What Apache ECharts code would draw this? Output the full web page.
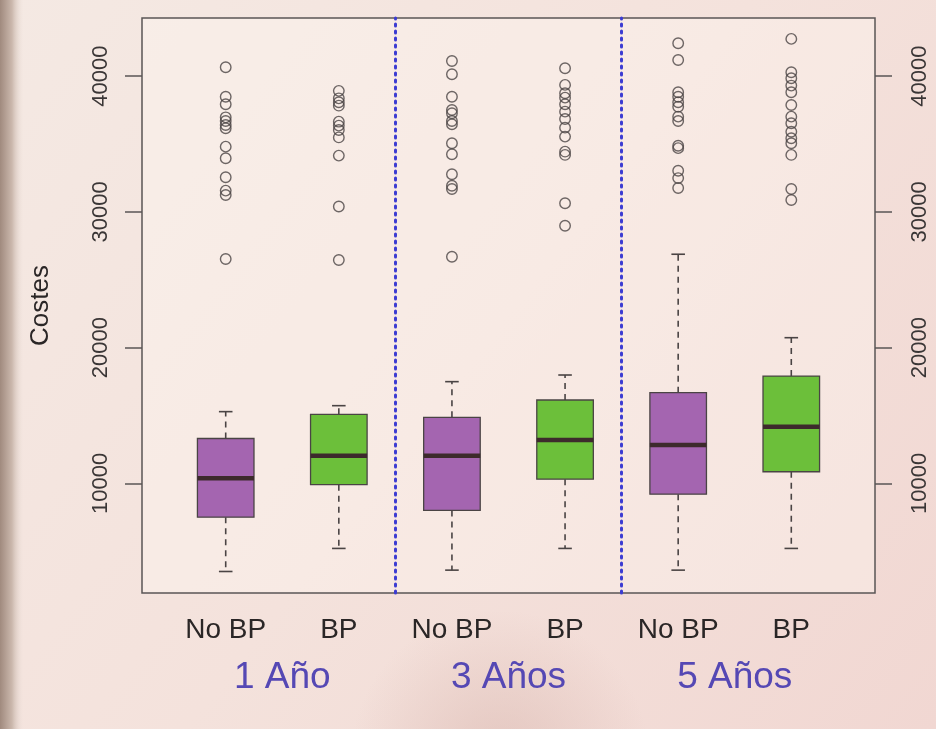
<!DOCTYPE html>
<html>
<head>
<meta charset="utf-8">
<script src="https://cdn.jsdelivr.net/npm/echarts@6/dist/echarts.min.js"></script>
<style>
html,body{margin:0;padding:0;background:#f3e3dc;}
#chart{width:936px;height:729px;}
</style>
</head>
<body>
<div id="chart"></div>
<script>
// ---- data ----
const categories = ['No BP', 'BP', 'No BP', 'BP', 'No BP', 'BP'];
const groups = ['1 Año', '3 Años', '5 Años'];
const groupPositions = [1.5, 3.5, 5.5];
const yTicks = [10000, 20000, 30000, 40000];

const lowWhisker  = [3500, 5200, 3600, 5200, 3600, 5200];
const q1          = [7500, 9900, 8000, 10300, 9200, 10850];
const medians     = [10370, 12030, 12030, 13190, 12820, 14170];
const q3          = [13300, 15080, 14860, 16140, 16680, 17900];
const highWhisker = [15280, 15720, 17490, 17980, 26880, 20730];

const outliersNoBP1 = [40660, 38490, 37930, 36970, 36700, 36410, 36160, 34810, 33950, 32550, 31570, 31250, 26530];
const outliersBP1   = [38920, 38370, 38080, 37830, 36650, 36360, 36040, 35490, 34150, 30400, 26460];
const outliersNoBP3 = [41120, 40140, 38490, 37510, 37270, 36700, 36460, 35060, 34250, 32770, 31930, 31690, 26700];
const outliersBP3   = [40590, 39360, 38740, 38420, 37930, 37390, 36850, 36210, 35550, 34440, 34200, 30640, 28980];
const outliersNoBP5 = [42430, 41200, 38820, 38490, 38080, 37750, 37020, 36700, 34880, 34700, 33030, 32490, 31760];
const outliersBP5   = [42750, 40290, 39850, 39310, 38820, 37880, 37020, 36530, 35910, 35430, 35060, 34200, 31690, 30880];
const outlierLists = [outliersNoBP1, outliersBP1, outliersNoBP3, outliersBP3, outliersNoBP5, outliersBP5];

const boxColors = ['#a465b0', '#6cbf3a', '#a465b0', '#6cbf3a', '#a465b0', '#6cbf3a'];
const dividers = [2.5, 4.5];

// ---- build series data ----
const boxData = categories.map((c, i) => [i + 1, lowWhisker[i], q1[i], medians[i], q3[i], highWhisker[i]]);
const outlierData = [];
outlierLists.forEach((list, i) => list.forEach(v => outlierData.push([i + 1, v])));

const chart = echarts.init(document.getElementById('chart'), null, {renderer: 'canvas'});

const FONT = "'Liberation Sans', Arial, sans-serif";
const Y_MIN = 1915, Y_MAX = 44290;

function renderBox(params, api) {
  const x = api.value(0);
  const lo = api.coord([x, api.value(1)]);
  const b1 = api.coord([x, api.value(2)]);
  const md = api.coord([x, api.value(3)]);
  const b3 = api.coord([x, api.value(4)]);
  const hi = api.coord([x, api.value(5)]);
  const halfW = (api.coord([x + 0.25, 0])[0] - api.coord([x, 0])[0]);
  const capW = (api.coord([x + 0.06, 0])[0] - api.coord([x, 0])[0]);
  const cx = lo[0];
  const edge = '#4a4444';
  const dash = {stroke: edge, lineWidth: 1.6, lineDash: [6, 5]};
  const solid = {stroke: edge, lineWidth: 1.6};
  return {
    type: 'group',
    children: [
      {type: 'line', shape: {x1: cx, y1: b3[1], x2: cx, y2: hi[1]}, style: dash},
      {type: 'line', shape: {x1: cx, y1: b1[1], x2: cx, y2: lo[1]}, style: dash},
      {type: 'line', shape: {x1: cx - capW, y1: hi[1], x2: cx + capW, y2: hi[1]}, style: solid},
      {type: 'line', shape: {x1: cx - capW, y1: lo[1], x2: cx + capW, y2: lo[1]}, style: solid},
      {type: 'rect', shape: {x: cx - halfW, y: b3[1], width: 2 * halfW, height: b1[1] - b3[1]},
       style: {fill: boxColors[params.dataIndex], stroke: edge, lineWidth: 1.3}},
      {type: 'line', shape: {x1: cx - halfW, y1: md[1], x2: cx + halfW, y2: md[1]},
       style: {stroke: '#3d2a2c', lineWidth: 4.5}}
    ]
  };
}

const option = {
  animation: false,
  backgroundColor: 'transparent',
  graphic: [
    {type: 'rect', z: -100, silent: true, shape: {x: 0, y: 0, width: 936, height: 729},
     style: {fill: new echarts.graphic.LinearGradient(0, 0, 1, 1, [
       {offset: 0, color: '#f4e9e3'}, {offset: 0.5, color: '#f4e2dc'}, {offset: 1, color: '#f1d7d2'}])}},
    {type: 'rect', z: -99, silent: true, shape: {x: 0, y: 0, width: 24, height: 729},
     style: {fill: new echarts.graphic.LinearGradient(0, 0, 1, 0, [
       {offset: 0, color: '#a08a7e'}, {offset: 0.5, color: '#cbb8ad'}, {offset: 1, color: 'rgba(240,228,222,0)'}])}},
    {type: 'circle', z: -98, silent: true, shape: {cx: 500, cy: 760, r: 150},
     style: {fill: new echarts.graphic.RadialGradient(0.5, 0.5, 0.5, [
       {offset: 0, color: 'rgba(215,180,172,0.55)'}, {offset: 1, color: 'rgba(215,180,172,0)'}])}}
  ],
  grid: {left: 142, right: 61, top: 18, bottom: 136, show: true,
         borderColor: '#5a5555', borderWidth: 1.5, backgroundColor: 'rgba(255,248,244,0.35)'},
  xAxis: [
    {type: 'value', min: 0.26, max: 6.74, position: 'bottom',
     axisLine: {show: false}, axisTick: {show: false}, splitLine: {show: false},
     axisLabel: {customValues: [1, 2, 3, 4, 5, 6], formatter: v => categories[Math.round(v) - 1],
                 fontFamily: FONT, fontSize: 28, color: '#2a2626', margin: 23}},
    {type: 'value', min: 0.26, max: 6.74, position: 'bottom',
     axisLine: {show: false}, axisTick: {show: false}, splitLine: {show: false},
     axisLabel: {customValues: groupPositions, formatter: v => groups[groupPositions.indexOf(v)],
                 fontFamily: FONT, fontSize: 37, color: '#5548b4', margin: 66}}
  ],
  yAxis: [
    {type: 'value', min: Y_MIN, max: Y_MAX, position: 'left',
     name: 'Costes', nameLocation: 'middle', nameGap: 88, nameRotate: 90,
     nameTextStyle: {fontFamily: FONT, fontSize: 26, color: '#2a2626'},
     axisLine: {show: false}, splitLine: {show: false},
     axisTick: {show: true, customValues: yTicks, length: 17, lineStyle: {color: '#5a5555', width: 1.5}},
     axisLabel: {customValues: yTicks, rotate: 90, formatter: v => String(v),
                 fontFamily: FONT, fontSize: 22, color: '#3a3636', margin: 30}},
    {type: 'value', min: Y_MIN, max: Y_MAX, position: 'right',
     axisLine: {show: false}, splitLine: {show: false},
     axisTick: {show: true, customValues: yTicks, length: 17, lineStyle: {color: '#5a5555', width: 1.5}},
     axisLabel: {customValues: yTicks, rotate: 90, formatter: v => String(v),
                 fontFamily: FONT, fontSize: 22, color: '#3a3636', margin: 34}}
  ],
  series: [
    {type: 'custom', name: 'boxes', xAxisIndex: 0, yAxisIndex: 0,
     renderItem: renderBox, data: boxData, encode: {x: 0, y: [1, 2, 3, 4, 5]}, z: 3,
     markLine: {silent: true, symbol: 'none', label: {show: false},
       lineStyle: {color: '#3c3cd2', type: [2, 5], width: 3, cap: 'round'},
       data: dividers.map(d => ({xAxis: d}))}},
    {type: 'scatter', name: 'outliers', xAxisIndex: 0, yAxisIndex: 0, data: outlierData,
     symbol: 'circle', symbolSize: 10.5, z: 4,
     itemStyle: {color: 'rgba(0,0,0,0)', borderColor: '#4a4444', borderWidth: 1.4}}
  ]
};
chart.setOption(option);
</script>
</body>
</html>
